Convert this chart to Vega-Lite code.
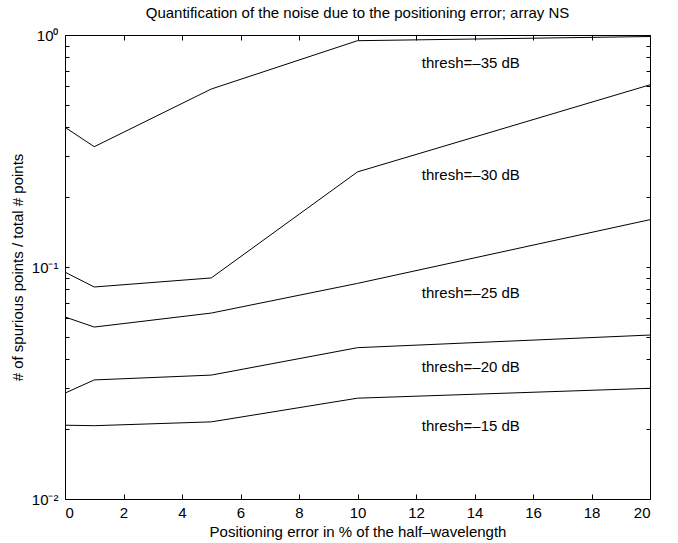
{
  "$schema": "https://vega.github.io/schema/vega-lite/v6.json",
  "width": 585,
  "height": 464,
  "autosize": {"type": "none"},
  "padding": {"left": 65, "top": 35, "right": 28, "bottom": 44},
  "background": "white",
  "config": {
    "font": "Liberation Sans",
    "view": {"stroke": "black", "strokeWidth": 1},
    "axis": {
      "grid": false,
      "domain": false,
      "tickColor": "black",
      "labelColor": "black",
      "titleColor": "black",
      "labelFontSize": 15,
      "titleFontSize": 15,
      "titleFontWeight": "normal"
    }
  },
  "title": {
    "text": "Quantification of the noise due to the positioning error; array NS",
    "fontSize": 15,
    "fontWeight": "normal",
    "color": "black",
    "offset": 7
  },
  "resolve": {"axis": {"x": "independent", "y": "independent"}},
  "layer": [
    {
      "data": {
        "values": [
          {"thresh": "-35", "x": 0, "y": 0.40},
          {"thresh": "-35", "x": 1, "y": 0.33},
          {"thresh": "-35", "x": 5, "y": 0.585},
          {"thresh": "-35", "x": 10, "y": 0.945},
          {"thresh": "-35", "x": 20, "y": 0.985},
          {"thresh": "-30", "x": 0, "y": 0.095},
          {"thresh": "-30", "x": 1, "y": 0.082},
          {"thresh": "-30", "x": 5, "y": 0.0897},
          {"thresh": "-30", "x": 10, "y": 0.257},
          {"thresh": "-30", "x": 20, "y": 0.61},
          {"thresh": "-25", "x": 0, "y": 0.0609},
          {"thresh": "-25", "x": 1, "y": 0.0551},
          {"thresh": "-25", "x": 5, "y": 0.0633},
          {"thresh": "-25", "x": 10, "y": 0.085},
          {"thresh": "-25", "x": 20, "y": 0.16},
          {"thresh": "-20", "x": 0, "y": 0.0286},
          {"thresh": "-20", "x": 1, "y": 0.0326},
          {"thresh": "-20", "x": 5, "y": 0.0342},
          {"thresh": "-20", "x": 10, "y": 0.0449},
          {"thresh": "-20", "x": 20, "y": 0.0509},
          {"thresh": "-15", "x": 0, "y": 0.0208},
          {"thresh": "-15", "x": 1, "y": 0.0207},
          {"thresh": "-15", "x": 5, "y": 0.0215},
          {"thresh": "-15", "x": 10, "y": 0.0272},
          {"thresh": "-15", "x": 20, "y": 0.030}
        ]
      },
      "mark": {"type": "line", "color": "black", "strokeWidth": 1},
      "encoding": {
        "x": {
          "field": "x", "type": "quantitative",
          "scale": {"domain": [0, 20], "nice": false},
          "axis": {
            "orient": "bottom",
            "values": [0, 2, 4, 6, 8, 10, 12, 14, 16, 18, 20],
            "tickSize": -5,
            "labelPadding": 11,
            "title": "Positioning error in % of the half–wavelength",
            "titlePadding": 4
          }
        },
        "y": {
          "field": "y", "type": "quantitative",
          "scale": {"type": "log", "domain": [0.01, 1], "nice": false},
          "axis": {
            "orient": "left",
            "values": [0.01, 0.02, 0.03, 0.04, 0.05, 0.06, 0.07, 0.08, 0.09, 0.1, 0.2, 0.3, 0.4, 0.5, 0.6, 0.7, 0.8, 0.9, 1],
            "labelExpr": "datum.value == 1 ? '10⁰' : datum.value == 0.1 ? '10⁻¹' : datum.value == 0.01 ? '10⁻²' : ''",
            "tickSize": -4,
            "labelPadding": 11,
            "title": "# of spurious points / total # points",
            "titlePadding": 6
          }
        },
        "detail": {"field": "thresh"}
      }
    },
    {
      "data": {
        "values": [
          {"label": "thresh=–35 dB", "x": 12.2, "y": 0.757},
          {"label": "thresh=–30 dB", "x": 12.2, "y": 0.249},
          {"label": "thresh=–25 dB", "x": 12.2, "y": 0.0775},
          {"label": "thresh=–20 dB", "x": 12.2, "y": 0.037},
          {"label": "thresh=–15 dB", "x": 12.2, "y": 0.0206}
        ]
      },
      "mark": {"type": "text", "align": "left", "baseline": "middle", "fontSize": 15, "color": "black"},
      "encoding": {
        "x": {
          "field": "x", "type": "quantitative",
          "scale": {"domain": [0, 20], "nice": false},
          "axis": {"orient": "top", "values": [0, 2, 4, 6, 8, 10, 12, 14, 16, 18, 20], "tickSize": -5, "labels": false, "title": null}
        },
        "y": {
          "field": "y", "type": "quantitative",
          "scale": {"type": "log", "domain": [0.01, 1], "nice": false},
          "axis": {
            "orient": "right",
            "values": [0.01, 0.02, 0.03, 0.04, 0.05, 0.06, 0.07, 0.08, 0.09, 0.1, 0.2, 0.3, 0.4, 0.5, 0.6, 0.7, 0.8, 0.9, 1],
            "tickSize": -4, "labels": false, "title": null
          }
        },
        "text": {"field": "label"}
      }
    }
  ]
}
